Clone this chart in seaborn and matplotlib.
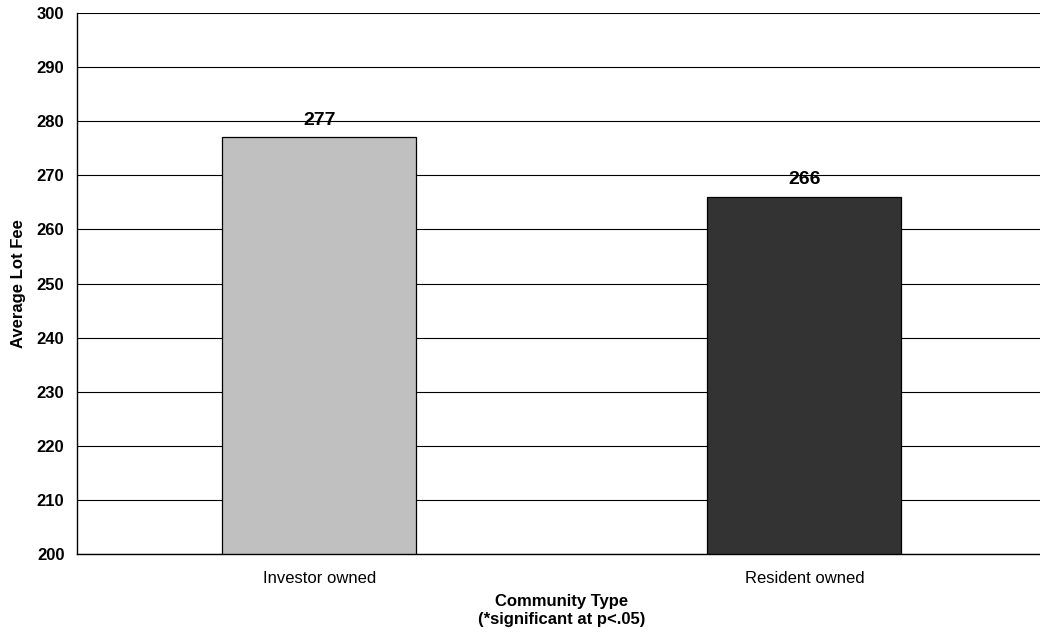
import matplotlib
matplotlib.use("Agg")

import pandas as pd
import matplotlib.pyplot as plt
import seaborn as sns

# data
categories = ["Investor owned", "Resident owned"]
avg_fee = [277, 266]
bar_colors = ["#C0C0C0", "#333333"]
y_ticks = list(range(200, 310, 10))

df = pd.DataFrame({"community": categories, "fee": avg_fee})

sns.set_style("white")
plt.rcParams["font.family"] = ["Liberation Sans", "DejaVu Sans"]
plt.rcParams["text.color"] = "black"
plt.rcParams["axes.labelcolor"] = "black"
plt.rcParams["xtick.color"] = "black"
plt.rcParams["ytick.color"] = "black"

fig = plt.figure(figsize=(10.4, 6.39), dpi=100)
ax = fig.add_axes([0.074, 0.133, 0.9327, 0.8466])

ax.set_axisbelow(True)
ax.grid(axis="y", color="black", linewidth=0.8)

sns.barplot(data=df, x="community", y="fee", hue="community",
            palette=bar_colors, legend=False, width=0.4,
            edgecolor="black", linewidth=0.9, ax=ax)

ax.set_ylim(200, 300)
ax.set_xlim(-0.5, 1.5)
ax.set_yticks(y_ticks)
ax.set_yticklabels([str(t) for t in y_ticks], fontsize=12, fontweight="bold")

# category labels centred, tick marks on the boundaries
ax.set_xticks([-0.5, 0.5, 1.5])
ax.set_xticklabels([])
ax.set_xticks([0, 1], minor=True)
ax.set_xticklabels(categories, minor=True, fontsize=12)
ax.tick_params(axis="x", which="minor", length=0, pad=12)
ax.tick_params(axis="x", which="major", length=5, width=1, direction="out")
ax.tick_params(axis="y", length=5, width=1, direction="out", pad=4)

for i, v in enumerate(avg_fee):
    ax.text(i, v + 1.6, str(v), ha="center", va="bottom",
            fontsize=14, fontweight="bold")

ax.set_xlabel("Community Type\n(*significant at p<.05)", fontsize=12,
              fontweight="bold", labelpad=6, linespacing=1.25)
ax.set_ylabel("Average Lot Fee", fontsize=12, fontweight="bold", labelpad=8)

for side in ["left", "bottom"]:
    ax.spines[side].set_color("black")
    ax.spines[side].set_linewidth(1)
ax.spines["right"].set_visible(False)
ax.spines["top"].set_visible(False)

fig.savefig("out.png", dpi=100)
